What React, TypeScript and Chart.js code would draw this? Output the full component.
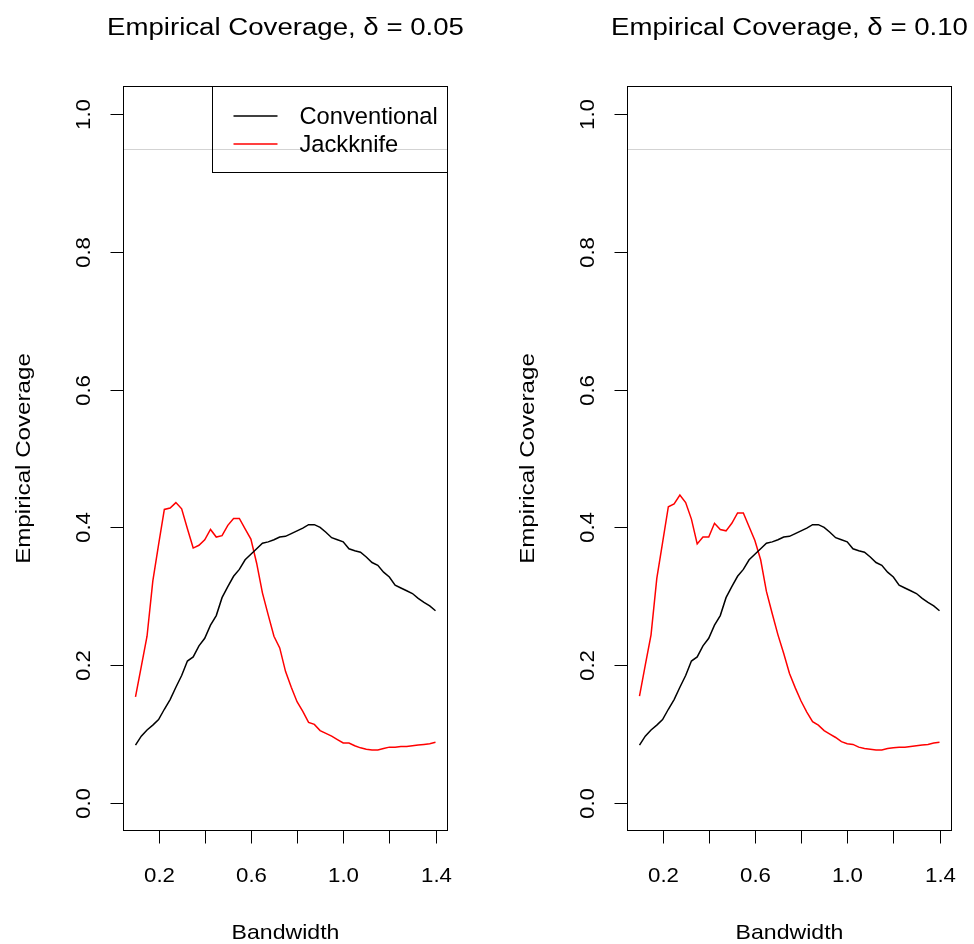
import React, { useEffect, useRef } from "react";
import { Chart, registerables } from "chart.js";

Chart.register(...registerables);

// ---------------- data ----------------
const bandwidth = [
  0.1, 0.125, 0.15, 0.175, 0.2, 0.225, 0.25, 0.275, 0.3, 0.325, 0.35, 0.375, 0.4,
  0.425, 0.45, 0.475, 0.5, 0.525, 0.55, 0.575, 0.6, 0.625, 0.65, 0.675, 0.7,
  0.725, 0.75, 0.775, 0.8, 0.825, 0.85, 0.875, 0.9, 0.925, 0.95, 0.975, 1.0,
  1.025, 1.05, 1.075, 1.1, 1.125, 1.15, 1.175, 1.2, 1.225, 1.25, 1.275, 1.3,
  1.325, 1.35, 1.375, 1.4,
];

const conventional = [
  0.084, 0.097, 0.106, 0.113, 0.121, 0.136, 0.15, 0.168, 0.185, 0.206, 0.212,
  0.228, 0.239, 0.258, 0.272, 0.298, 0.314, 0.329, 0.339, 0.353, 0.361, 0.369,
  0.377, 0.379, 0.382, 0.386, 0.387, 0.391, 0.395, 0.399, 0.404, 0.404, 0.4,
  0.393, 0.385, 0.382, 0.379, 0.369, 0.366, 0.364, 0.357, 0.349, 0.345, 0.335,
  0.328, 0.316, 0.312, 0.308, 0.304, 0.297, 0.291, 0.286, 0.279,
];

const jackknife05 = [
  0.154, 0.198, 0.242, 0.322, 0.375, 0.426, 0.428, 0.436, 0.427, 0.398, 0.37,
  0.374, 0.382, 0.397, 0.386, 0.388, 0.403, 0.413, 0.413, 0.398, 0.383, 0.348,
  0.305, 0.273, 0.242, 0.225, 0.191, 0.168, 0.147, 0.133, 0.117, 0.114, 0.105,
  0.101, 0.097, 0.092, 0.087, 0.087, 0.083, 0.08, 0.078, 0.077, 0.077, 0.079,
  0.081, 0.081, 0.082, 0.082, 0.083, 0.084, 0.085, 0.086, 0.088,
];

const jackknife10 = [
  0.155, 0.2, 0.244, 0.326, 0.378, 0.43, 0.434, 0.447, 0.436, 0.412, 0.376,
  0.386, 0.386, 0.406, 0.397, 0.395, 0.406, 0.421, 0.421, 0.401, 0.381, 0.353,
  0.307, 0.275, 0.244, 0.217, 0.188, 0.167, 0.148, 0.132, 0.118, 0.113, 0.105,
  0.1, 0.095, 0.089, 0.086, 0.085, 0.081, 0.079, 0.078, 0.077, 0.077, 0.079,
  0.08, 0.081, 0.081, 0.082, 0.083, 0.084, 0.085, 0.087, 0.088,
];

const xTicks = [0.2, 0.4, 0.6, 0.8, 1.0, 1.2, 1.4];
const xTickLabels = ["0.2", "", "0.6", "", "1.0", "", "1.4"];
const yTicks = [0, 0.2, 0.4, 0.6, 0.8, 1.0];
const yTickLabels = ["0.0", "0.2", "0.4", "0.6", "0.8", "1.0"];
const targetLevel = 0.95;

const panelTitles = ["Empirical Coverage, \u03b4 = 0.05", "Empirical Coverage, \u03b4 = 0.10"];
const seriesNames = ["Conventional", "Jackknife"];
const xTitle = "Bandwidth";
const yTitle = "Empirical Coverage";

// ---------------- styling ----------------
const FONT = '"Liberation Sans", Arial, Helvetica, sans-serif';
const PANEL_W = 487;
const H = 944;

// draw text at (x, y) baseline, with a stretch factor along the text direction
function drawText(
  ctx: CanvasRenderingContext2D,
  text: string,
  x: number,
  y: number,
  px: number,
  stretch: number,
  rotate: boolean,
  align: CanvasTextAlign = "center"
) {
  ctx.save();
  ctx.font = `${px}px ${FONT}`;
  ctx.textAlign = align;
  ctx.textBaseline = "alphabetic";
  ctx.translate(x, y);
  if (rotate) ctx.rotate(-Math.PI / 2);
  ctx.scale(stretch, 1);
  ctx.fillText(text, 0, 0);
  ctx.restore();
}

function rPlugin(title: string, showLegend: boolean) {
  return {
    id: "rbase",
    beforeDatasetsDraw(chart: any) {
      const { ctx, chartArea: a, scales } = chart;
      const y = Math.round(scales.y.getPixelForValue(targetLevel)) + 0.5;
      ctx.save();
      ctx.strokeStyle = "#d3d3d3";
      ctx.lineWidth = 1;
      ctx.beginPath();
      ctx.moveTo(a.left, y);
      ctx.lineTo(a.right, y);
      ctx.stroke();
      ctx.restore();
    },
    afterDraw(chart: any) {
      const { ctx, chartArea: a, scales } = chart;
      ctx.save();
      ctx.strokeStyle = "#000";
      ctx.fillStyle = "#000";
      ctx.lineWidth = 1;
      // box
      ctx.strokeRect(a.left, a.top, a.right - a.left, a.bottom - a.top);
      // x ticks
      xTicks.forEach((v, i) => {
        const px = Math.round(scales.x.getPixelForValue(v)) + 0.5;
        ctx.beginPath();
        ctx.moveTo(px, a.bottom);
        ctx.lineTo(px, a.bottom + 13);
        ctx.stroke();
        if (xTickLabels[i]) drawText(ctx, xTickLabels[i], px, a.bottom + 51.5, 21, 1.06, false);
      });
      // y ticks
      yTicks.forEach((v, i) => {
        const py = Math.round(scales.y.getPixelForValue(v)) + 0.5;
        ctx.beginPath();
        ctx.moveTo(a.left - 13, py);
        ctx.lineTo(a.left, py);
        ctx.stroke();
        drawText(ctx, yTickLabels[i], a.left - 34, py, 21, 1.06, true);
      });
      // axis titles
      drawText(ctx, xTitle, (a.left + a.right) / 2, a.bottom + 108.5, 21, 1.1, false);
      drawText(ctx, yTitle, a.left - 93.5, (a.top + a.bottom) / 2, 21, 1.15, true);
      // main title
      drawText(ctx, title, (a.left + a.right) / 2, 35, 23.5, 1.175, false);
      // legend
      if (showLegend) {
        const lx = Math.round(a.right - 236) + 0.5;
        const ly = a.top;
        ctx.strokeRect(lx, ly, a.right - lx, 86);
        const colors = ["#000000", "#ff0000"];
        seriesNames.forEach((name, i) => {
          const yy = ly + 29.5 + i * 28;
          ctx.strokeStyle = colors[i];
          ctx.lineWidth = 1.3;
          ctx.beginPath();
          ctx.moveTo(lx + 21, yy);
          ctx.lineTo(lx + 65, yy);
          ctx.stroke();
          drawText(ctx, name, lx + 87, yy + 8, 23.7, 1, false, "left");
        });
      }
      ctx.restore();
    },
  };
}

function Panel({ index }: { index: number }) {
  const ref = useRef<HTMLCanvasElement | null>(null);
  useEffect(() => {
    if (!ref.current) return;
    const jack = index === 0 ? jackknife05 : jackknife10;
    const padLeft = index === 0 ? 123.5 : 140.5;
    const padRight = index === 0 ? 39.5 : 22.5;
    const chart = new Chart(ref.current, {
      type: "line",
      data: {
        datasets: [
          {
            label: seriesNames[0],
            data: bandwidth.map((x, i) => ({ x, y: conventional[i] })),
            borderColor: "#000000",
            borderWidth: 1.5,
            pointRadius: 0,
            tension: 0,
            fill: false,
          },
          {
            label: seriesNames[1],
            data: bandwidth.map((x, i) => ({ x, y: jack[i] })),
            borderColor: "#ff0000",
            borderWidth: 1.5,
            pointRadius: 0,
            tension: 0,
            fill: false,
          },
        ],
      },
      options: {
        animation: false,
        responsive: false,
        devicePixelRatio: 1,
        layout: { padding: { left: padLeft, right: padRight, top: 86.5, bottom: 113.5 } },
        scales: {
          x: { type: "linear", min: 0.048, max: 1.452, display: false },
          y: { type: "linear", min: -0.04, max: 1.04, display: false },
        },
        plugins: {
          legend: { display: false },
          title: { display: false },
          tooltip: { enabled: false },
        },
      },
      plugins: [rPlugin(panelTitles[index], index === 0)],
    } as any);
    return () => chart.destroy();
  }, [index]);
  return (
    <canvas
      ref={ref}
      width={PANEL_W}
      height={H}
      style={{ position: "absolute", left: index * PANEL_W, top: 0, width: PANEL_W, height: H }}
    />
  );
}

export default function App() {
  return (
    <div style={{ position: "absolute", left: 0, top: 0, width: 974, height: 944, background: "#fff" }}>
      <Panel index={0} />
      <Panel index={1} />
    </div>
  );
}
